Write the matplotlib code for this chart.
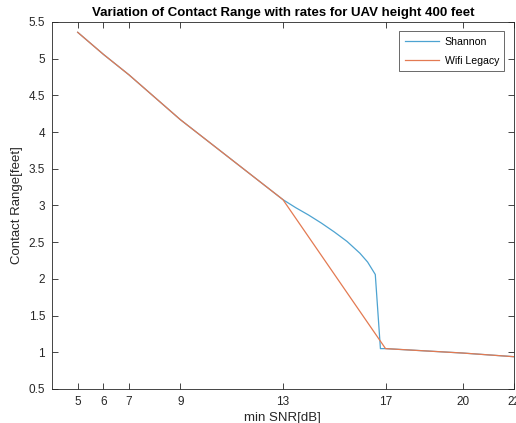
import matplotlib.pyplot as plt
from matplotlib.ticker import FuncFormatter

plt.rcParams['font.family'] = ['Liberation Sans', 'DejaVu Sans']

snr_ticks = [5, 6, 7, 9, 13, 17, 20, 22]

shannon_snr = [5, 6, 7, 9, 13, 13.5, 14, 14.5, 15, 15.5, 16, 16.3, 16.6, 16.8, 17, 20, 22]
shannon_range = [5.36, 5.06, 4.78, 4.17, 3.08, 2.97, 2.87, 2.76, 2.64, 2.51, 2.35, 2.23, 2.06, 1.05, 1.05, 0.99, 0.94]

wifi_snr = [5, 6, 7, 9, 13, 17, 20, 22]
wifi_range = [5.36, 5.06, 4.78, 4.17, 3.08, 1.05, 0.99, 0.94]

fig = plt.figure(figsize=(5.16, 4.23), dpi=100)
ax = fig.add_axes([0.1008, 0.0804, 0.895, 0.8676])

ax.plot(shannon_snr, shannon_range, color='#4DA3D1', lw=0.9, label='Shannon')
ax.plot(wifi_snr, wifi_range, color='#E37A52', lw=0.9, label='Wifi Legacy')

ax.set_xlim(4, 22)
ax.set_ylim(0.5, 5.5)
ax.set_xticks(snr_ticks)
ax.set_yticks([0.5, 1, 1.5, 2, 2.5, 3, 3.5, 4, 4.5, 5, 5.5])
ax.yaxis.set_major_formatter(FuncFormatter(lambda v, p: f'{v:g}'))
ax.tick_params(direction='in', top=True, right=True, length=4, width=0.6,
               labelsize=8.5, colors='#262626', pad=5)
for s in ax.spines.values():
    s.set_color('#262626')
    s.set_linewidth(0.6)

ax.set_xlabel('min SNR[dB]', fontsize=9.5, color='#262626', labelpad=3)
ax.set_ylabel('Contact Range[feet]', fontsize=9.5, color='#262626', labelpad=4)
ax.set_title('Variation of Contact Range with rates for UAV height 400 feet',
             fontsize=9.5, fontweight='bold', pad=4)

leg = ax.legend(loc='upper right', fontsize=7.6, fancybox=False, handlelength=3.3,
                borderaxespad=0.9, labelspacing=0.85, handletextpad=0.5,
                borderpad=0.5)
leg.get_frame().set_edgecolor('#262626')
leg.get_frame().set_linewidth(0.6)

plt.savefig('out.png', dpi=100)
